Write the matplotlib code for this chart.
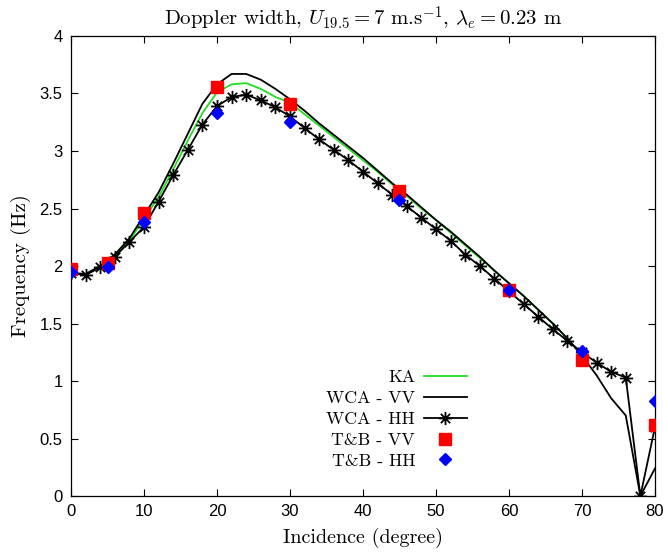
import numpy as np
import matplotlib
matplotlib.use("Agg")
import matplotlib.pyplot as plt
from matplotlib.path import Path

# ---------------- data ----------------
inc = [0, 2, 4, 6, 8, 10, 12, 14, 16, 18, 20, 22, 24, 26, 28, 30, 32, 34, 36, 38,
       40, 42, 44, 46, 48, 50, 52, 54, 56, 58, 60, 62, 64, 66, 68, 70, 72, 74, 76, 78, 80]

ka = [1.94, 1.93, 2.00, 2.09, 2.22, 2.41, 2.60, 2.84, 3.09, 3.33, 3.51, 3.58, 3.59, 3.54, 3.47,
      3.42, 3.32, 3.22, 3.12, 3.02, 2.92, 2.82, 2.71, 2.61, 2.50, 2.40, 2.29, 2.18, 2.07, 1.96,
      1.85, 1.74, 1.62, 1.50, 1.37, 1.22]
ka_inc = inc[:len(ka)]

wca_vv = [1.94, 1.93, 2.00, 2.10, 2.24, 2.44, 2.64, 2.89, 3.15, 3.41, 3.58, 3.67, 3.67, 3.62, 3.54,
          3.45, 3.35, 3.24, 3.14, 3.04, 2.94, 2.83, 2.72, 2.62, 2.51, 2.40, 2.30, 2.19, 2.08, 1.96,
          1.85, 1.74, 1.62, 1.50, 1.37, 1.22, 1.05, 0.85, 0.70, 0.0, 0.24]

wca_hh = [1.94, 1.92, 1.99, 2.08, 2.21, 2.34, 2.56, 2.79, 3.01, 3.23, 3.39, 3.47, 3.49, 3.44, 3.38,
          3.30, 3.20, 3.10, 3.01, 2.92, 2.82, 2.72, 2.62, 2.52, 2.42, 2.32, 2.22, 2.10, 2.00, 1.89,
          1.78, 1.67, 1.56, 1.45, 1.35, 1.25, 1.16, 1.08, 1.03, 0.0, 0.60]

tb_inc = [0, 5, 10, 20, 30, 45, 60, 70, 80]
tb_vv = [1.97, 2.03, 2.46, 3.56, 3.41, 2.65, 1.79, 1.18, 0.62]
tb_hh = [1.95, 1.99, 2.38, 3.33, 3.25, 2.57, 1.79, 1.26, 0.83]

xticks = [0, 10, 20, 30, 40, 50, 60, 70, 80]
yticks = [0, 0.5, 1, 1.5, 2, 2.5, 3, 3.5, 4]
ytick_labels = ["0", "0.5", "1", "1.5", "2", "2.5", "3", "3.5", "4"]

# ---------------- style ----------------
plt.rcParams['mathtext.fontset'] = 'cm'
plt.rcParams['axes.unicode_minus'] = False
serif = 'cmr10'

# asterisk marker (plus + cross)
r = 0.707
star = Path([(-1, 0), (1, 0), (0, -1), (0, 1), (-r, -r), (r, r), (-r, r), (r, -r)],
            [Path.MOVETO, Path.LINETO, Path.MOVETO, Path.LINETO,
             Path.MOVETO, Path.LINETO, Path.MOVETO, Path.LINETO])

fig = plt.figure(figsize=(6.68, 5.52), dpi=100)
ax = fig.add_axes([0.1063, 0.1014, 0.8742, 0.8334])

ax.plot(ka_inc, ka, color='#22dd22', lw=1.3, label='KA', zorder=2)
ax.plot(inc, wca_vv, color='black', lw=1.3, label='WCA - VV', zorder=3)
ax.plot(inc, wca_hh, color='black', lw=1.3, marker=star, markersize=9.5,
        markeredgewidth=1.3, label='WCA - HH', zorder=3)
ax.plot(tb_inc, tb_vv, ls='none', marker='s', color='#ff0000', markersize=8,
        label='T&B - VV', zorder=4)
ax.plot(tb_inc, tb_hh, ls='none', marker='D', color='#0000ff', markersize=6.5,
        label='T&B - HH', zorder=5)

ax.set_xlim(0, 80)
ax.set_ylim(0, 4)
ax.set_xticks(xticks)
ax.set_yticks(yticks)
ax.set_yticklabels(ytick_labels)
ax.tick_params(direction='in', top=True, right=True, length=5, width=0.8,
               labelsize=12, pad=6)
for lab in ax.get_xticklabels() + ax.get_yticklabels():
    lab.set_fontfamily('Liberation Sans')
for s in ax.spines.values():
    s.set_linewidth(0.9)

ax.set_xlabel('Incidence (degree)', fontfamily=serif, fontsize=14.5, labelpad=6)
ax.set_ylabel('Frequency (Hz)', fontfamily=serif, fontsize=15, labelpad=6)
ax.set_title(r'Doppler width, $U_{19.5}=7$ m.s$^{-1}$, $\lambda_e=0.23$ m',
             fontfamily=serif, fontsize=15, pad=7)

leg = ax.legend(loc='lower right', bbox_to_anchor=(0.705, 0.025), frameon=False,
                markerfirst=False, handlelength=2.4, labelspacing=0.3,
                handletextpad=0.5, prop={'family': serif, 'size': 12.8})

fig.savefig('out.png', dpi=100)
